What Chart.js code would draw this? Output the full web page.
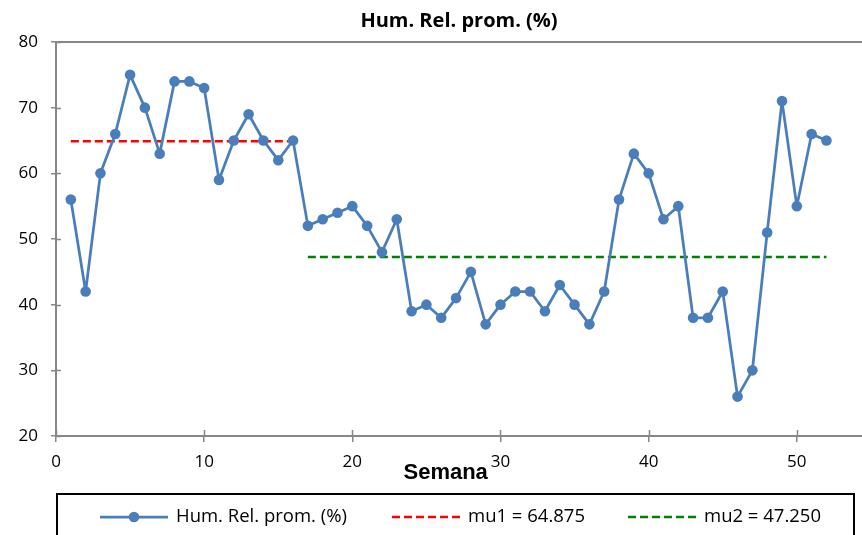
<!DOCTYPE html>
<html>
<head>
<meta charset="utf-8">
<title>Hum. Rel. prom. (%)</title>
<script src="https://cdn.jsdelivr.net/npm/chart.js@4.4.1/dist/chart.umd.min.js"></script>
<style>
  html, body { margin: 0; padding: 0; background: #fff; }
  #wrap { width: 862px; height: 535px; }
</style>
</head>
<body>
<div id="wrap"><canvas id="humChart" width="862" height="535"></canvas></div>
<script>
// Semana (week number) on the x axis
const semanas = [1, 2, 3, 4, 5, 6, 7, 8, 9, 10, 11, 12, 13, 14, 15, 16, 17, 18, 19, 20,
                 21, 22, 23, 24, 25, 26, 27, 28, 29, 30, 31, 32, 33, 34, 35, 36, 37, 38, 39, 40,
                 41, 42, 43, 44, 45, 46, 47, 48, 49, 50, 51, 52];
// Average relative humidity (%) per week
const humedad = [56, 42, 60, 66, 75, 70, 63, 74, 74, 73, 59, 65, 69, 65, 62, 65, 52, 53, 54, 55,
                 52, 48, 53, 39, 40, 38, 41, 45, 37, 40, 42, 42, 39, 43, 40, 37, 42, 56, 63, 60,
                 53, 55, 38, 38, 42, 26, 30, 51, 71, 55, 66, 65];

// the two segment means and the weeks they cover
const mu1 = 64.875;
const mu2 = 47.25;
const tramo1 = [1, 16];
const tramo2 = [17, 52];

// axis settings
const yMin = 20, yMax = 80, yStep = 10;
const xMin = 0, xMax = 54.4, xStep = 10;
const xTitle = 'Semana';

const axisGray = '#878787';
const blue = '#4a7ebb';

// Legend layout (drawn by hand inside a black box, like the original)
const legendBox = { left: 57, top: 494, right: 854, bottom: 548, midY: 517 };
const legendSlots = [
    { from: 100, to: 168, textX: 176 },
    { from: 392, to: 460, textX: 468 },
    { from: 628, to: 697, textX: 704 }
];

const boxLegend = {
    id: 'boxLegend',
    afterDraw(chart) {
        const ctx = chart.ctx;
        ctx.save();
        ctx.strokeStyle = '#000';
        ctx.lineWidth = 2;
        ctx.strokeRect(legendBox.left, legendBox.top, legendBox.right - legendBox.left, legendBox.bottom - legendBox.top);

        chart.data.datasets.forEach((ds, i) => {
            const slot = legendSlots[i];
            const y = legendBox.midY;
            ctx.strokeStyle = ds.borderColor;
            ctx.lineWidth = ds.borderWidth;
            ctx.setLineDash(ds.borderDash || []);
            ctx.beginPath();
            ctx.moveTo(slot.from, y);
            ctx.lineTo(slot.to, y);
            ctx.stroke();
            ctx.setLineDash([]);
            if (ds.pointRadius > 0) {
                ctx.fillStyle = ds.pointBackgroundColor;
                ctx.beginPath();
                ctx.arc((slot.from + slot.to) / 2, y, ds.pointRadius, 0, Math.PI * 2);
                ctx.fill();
            }
            ctx.fillStyle = '#000';
            ctx.font = '18.5px "Open Sans"';
            ctx.textBaseline = 'middle';
            ctx.textAlign = 'left';
            ctx.fillText(ds.label, slot.textX, y);
        });
        ctx.restore();
    }
};

// Excel style: tick marks cross the axis, a frame line along the top,
// and the x title sits a bit left of centre
const axisExtras = {
    id: 'axisExtras',
    afterDraw(chart) {
        const ctx = chart.ctx;
        const area = chart.chartArea;
        const xs = chart.scales.x;
        const ys = chart.scales.y;
        ctx.save();
        ctx.strokeStyle = axisGray;
        ctx.lineWidth = 1.5;
        xs.ticks.forEach(t => {
            const px = Math.round(xs.getPixelForValue(t.value)) + 0.5;
            ctx.beginPath();
            ctx.moveTo(px, area.bottom);
            ctx.lineTo(px, area.bottom - 6);
            ctx.stroke();
        });
        ys.ticks.forEach(t => {
            const py = Math.round(ys.getPixelForValue(t.value)) + 0.5;
            ctx.beginPath();
            ctx.moveTo(area.left, py);
            ctx.lineTo(area.left + 5, py);
            ctx.stroke();
        });
        ctx.lineWidth = 2;
        ctx.beginPath();
        ctx.moveTo(area.left, area.top);
        ctx.lineTo(area.right, area.top);
        ctx.stroke();

        ctx.fillStyle = '#000';
        ctx.font = 'bold 22px "Liberation Sans"';
        ctx.textAlign = 'center';
        ctx.textBaseline = 'middle';
        ctx.fillText(xTitle, xs.getPixelForValue(26.3), area.bottom + 37);
        ctx.restore();
    }
};

const ctx = document.getElementById('humChart').getContext('2d');

const humChart = new Chart(ctx, {
    type: 'scatter',
    data: {
        datasets: [{
            label: 'Hum. Rel. prom. (%)',
            data: semanas.map((s, i) => ({ x: s, y: humedad[i] })),
            showLine: true,
            borderColor: blue,
            borderWidth: 2.75,
            borderJoinStyle: 'round',
            pointRadius: 5.3,
            pointBackgroundColor: blue,
            pointBorderColor: blue,
            pointBorderWidth: 0,
            tension: 0
        }, {
            label: 'mu1 = ' + mu1.toFixed(3),
            data: tramo1.map(s => ({ x: s, y: mu1 })),
            showLine: true,
            borderColor: '#ff0000',
            borderWidth: 2.5,
            borderDash: [8, 4],
            pointRadius: 0
        }, {
            label: 'mu2 = ' + mu2.toFixed(3),
            data: tramo2.map(s => ({ x: s, y: mu2 })),
            showLine: true,
            borderColor: '#008000',
            borderWidth: 2.5,
            borderDash: [8, 4],
            pointRadius: 0
        }]
    },
    options: {
        responsive: false,
        animation: false,
        devicePixelRatio: 1,
        layout: { autoPadding: false, padding: { left: 0, right: 0, top: 0, bottom: 45 } },
        plugins: {
            legend: { display: false },
            tooltip: { enabled: false },
            title: {
                display: true,
                text: 'Hum. Rel. prom. (%)',
                fullSize: false,
                color: '#000',
                font: { family: '"Open Sans"', size: 20, weight: 'bold' },
                padding: { top: 9, bottom: 9 }
            }
        },
        scales: {
            x: {
                type: 'linear',
                min: xMin,
                max: xMax,
                afterBuildTicks: scale => {
                    scale.ticks = scale.ticks.filter(t => t.value % xStep === 0);
                },
                afterFit: scale => { scale.height = 54; },
                ticks: {
                    stepSize: xStep,
                    padding: 10,
                    color: '#000',
                    maxRotation: 0,
                    font: { family: '"Open Sans"', size: 17 }
                },
                grid: { drawOnChartArea: false, color: axisGray, lineWidth: 1.5, tickLength: 6 },
                border: { color: axisGray, width: 2 }
            },
            y: {
                min: yMin,
                max: yMax,
                afterFit: scale => { scale.width = 56; },
                ticks: {
                    stepSize: yStep,
                    padding: 13,
                    color: '#000',
                    font: { family: '"Open Sans"', size: 17 }
                },
                grid: { drawOnChartArea: false, color: axisGray, lineWidth: 1.5, tickLength: 5 },
                border: { color: axisGray, width: 2 }
            }
        }
    },
    plugins: [boxLegend, axisExtras]
});
</script>
</body>
</html>
